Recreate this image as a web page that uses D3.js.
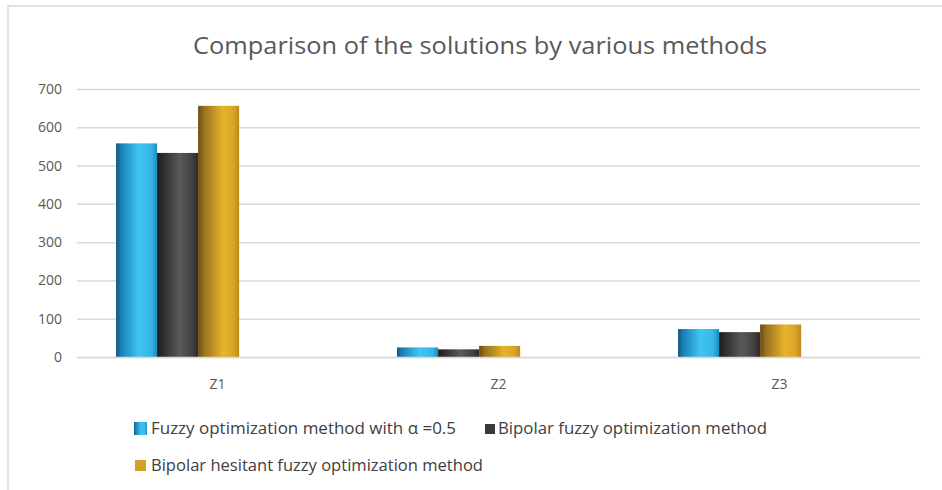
<!DOCTYPE html>
<html><head><meta charset="utf-8">
<script src="https://cdn.jsdelivr.net/npm/d3@7"></script>
<style>body{margin:0;background:#fff;} text{font-family:"Open Sans","Noto Sans",sans-serif;}</style>
</head><body>
<svg id="c" width="942" height="490"></svg>
<script>
const categories = ["Z1","Z2","Z3"];
const seriesNames = ["Fuzzy optimization method with  \u03b1 =0.5","Bipolar fuzzy optimization method","Bipolar hesitant fuzzy optimization method"];
const fuzzyValues = [558, 25, 73];
const bipolarValues = [533, 20, 65];
const hesitantValues = [656, 29, 85];
const yTicks = [0,100,200,300,400,500,600,700];
const title = "Comparison of the solutions by various methods";

const seriesValues = [fuzzyValues, bipolarValues, hesitantValues];
const svg = d3.select("#c");
const W = 942, H = 490;
const m = {left:77, right:22, top:89, bottom:133};
const x = d3.scaleBand().domain(categories).range([m.left, W - m.right]);
const y = d3.scaleLinear().domain([0,700]).range([H - m.bottom, m.top]);
const bw = x.bandwidth();
const inner = d3.scaleBand().domain(d3.range(3)).range([bw*0.139, bw*0.139 + bw*0.438]);

// border
svg.append("path").attr("d", `M8,${H}V6H${W}`).attr("fill","none").attr("stroke","#d9d9d9").attr("stroke-width",1.5);

// gradients
const defs = svg.append("defs");
const grads = [
  [["0","#12577d"],["0.12","#1a7fb5"],["0.55","#3fc5f3"],["0.85","#36b6e6"],["1","#1d8cc2"]],
  [["0","#1c1c1c"],["0.15","#2e2e2e"],["0.55","#5a5a5a"],["0.85","#414141"],["1","#2a2a2a"]],
  [["0","#6a4c14"],["0.15","#9a7320"],["0.6","#e7b22b"],["0.85","#dba626"],["1","#b8891c"]]
];
grads.forEach((g,i)=>{
  const lg = defs.append("linearGradient").attr("id","g"+i).attr("x1","0").attr("x2","1").attr("y1","0").attr("y2","0");
  g.forEach(s=>lg.append("stop").attr("offset",s[0]).attr("stop-color",s[1]));
});
const legendColors = ["#2ea7e0","#3a3a3a","#d4a02a"];

// title
svg.append("text").attr("x", 480).attr("y", 54).attr("text-anchor","middle")
  .attr("font-size", 24).attr("fill","#595959").attr("textLength",574).attr("lengthAdjust","spacingAndGlyphs").text(title);

// grid
const yAxis = d3.axisLeft(y).tickValues(yTicks).tickSize(-(W - m.left - m.right)).tickPadding(15);
const ga = svg.append("g").attr("transform",`translate(${m.left},0)`).call(yAxis);
ga.select(".domain").remove();
ga.selectAll(".tick line").attr("stroke","#d9d9d9").attr("stroke-width",1.5);
ga.selectAll(".tick text").attr("fill","#595959").attr("font-size",14).attr("font-family","'Open Sans',sans-serif");

// bars
categories.forEach((c,ci)=>{
  seriesValues.forEach((vals,si)=>{
    svg.append("rect")
      .attr("x", x(c) + inner(si))
      .attr("width", inner.bandwidth())
      .attr("y", y(vals[ci]))
      .attr("height", y(0) - y(vals[ci]))
      .attr("fill", `url(#g${si})`);
  });
});

// x axis
const xAxis = d3.axisBottom(x).tickSize(0).tickPadding(22);
const gx = svg.append("g").attr("transform",`translate(0,${y(0)})`).call(xAxis);
gx.select(".domain").attr("stroke","#d9d9d9").attr("stroke-width",1.5);
gx.selectAll(".tick text").attr("fill","#595959").attr("font-size",14).attr("font-family","'Open Sans',sans-serif");

// legend
const legendItems = [
  {sx:134, sy:422, s:13, tx:151, ty:434, w:305},
  {sx:485, sy:424, s:10, tx:498, ty:434, w:269},
  {sx:135, sy:460, s:11, tx:151, ty:471, w:332}
];
legendItems.forEach((p,i)=>{
  svg.append("rect").attr("x",p.sx).attr("y",p.sy).attr("width",p.s).attr("height",p.s)
    .attr("fill", i===0 ? "url(#g0)" : legendColors[i]);
  svg.append("text").attr("x",p.tx).attr("y",p.ty).attr("font-size",16).attr("fill","#404040")
    .attr("textLength",p.w).attr("lengthAdjust","spacingAndGlyphs").text(seriesNames[i]);
});
</script>
</body></html>
